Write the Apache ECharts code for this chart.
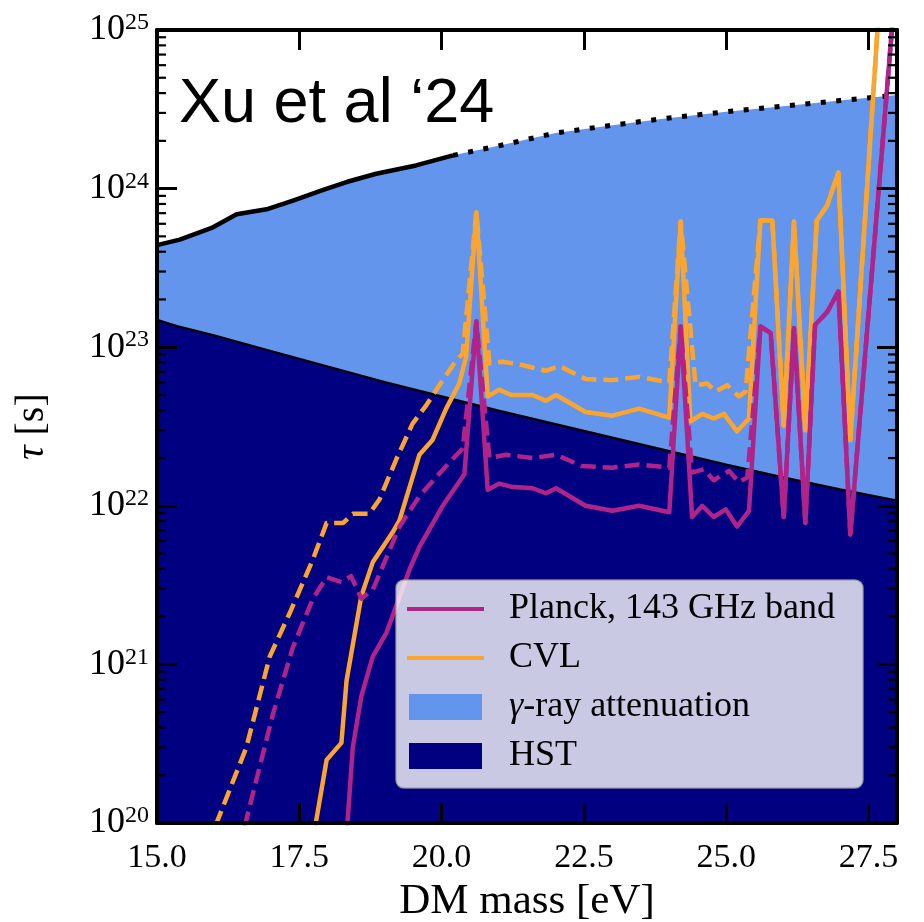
<!DOCTYPE html>
<html><head><meta charset="utf-8">
<script src="https://cdn.jsdelivr.net/npm/echarts@6/dist/echarts.min.js"></script>
<style>html,body{margin:0;padding:0;background:#fff}#c{width:924px;height:922px}</style>
</head><body><div id="c"></div>
<script>
// ---- tick labels ----
const xTicks = [15.0, 17.5, 20.0, 22.5, 25.0, 27.5];
const yDecades = [20, 21, 22, 23, 24, 25];
const minorMultipliers = [2, 3, 4, 5, 6, 7, 8, 9];

// ---- gamma-ray attenuation upper boundary (solid up to 20.2, dotted beyond) ----
const gammaX = [15.0, 15.40, 15.96, 16.40, 16.95, 17.39, 17.92, 18.33, 18.85, 19.55, 20.20, 21, 22, 23, 24, 25, 26, 27, 28];
const gammaY = [4.4e23, 4.77e23, 5.65e23, 6.9e23, 7.44e23, 8.4e23, 9.8e23, 1.1e24, 1.24e24, 1.4e24, 1.62e24, 1.86e24, 2.24e24, 2.51e24, 2.79e24, 3.05e24, 3.31e24, 3.59e24, 3.89e24];
const gammaSolidEnd = 20.2;

// ---- HST bound ----
const hstX = [15, 15.35, 16, 17, 18, 19, 20, 21, 22, 23, 24, 25, 26, 27, 28];
const hstY = [1.49e23, 1.36e23, 1.19e23, 9.46e22, 7.55e22, 6.03e22, 4.9e22, 3.98e22, 3.27e22, 2.69e22, 2.21e22, 1.82e22, 1.51e22, 1.27e22, 1.08e22];

// ---- CVL (solid) ----
const cvlX = [17.72, 17.80, 17.98, 18.24, 18.33, 18.59, 18.79, 19.14, 19.26, 19.61, 19.84, 20.08, 20.31, 20.43, 20.61, 20.81, 21.01, 21.22, 21.60, 21.83, 22.01, 22.53, 23.00, 23.47, 24.00, 24.20, 24.37, 24.58, 24.78, 24.96, 25.19, 25.40, 25.60, 25.81, 26.01, 26.19, 26.39, 26.59, 26.77, 26.97, 27.18, 27.67, 27.85];
const cvlY = [7e19, 1.05e20, 2.5e20, 3.2e20, 7.9e20, 2.7e21, 4.4e21, 6.8e21, 8.1e21, 2.1e22, 2.6e22, 4.1e22, 5.9e22, 8.7e22, 7.1e23, 4.9e22, 5.4e22, 5.0e22, 5.0e22, 4.6e22, 5.0e22, 3.9e22, 3.7e22, 4.1e22, 3.6e22, 6.2e23, 3.4e22, 3.8e22, 3.55e22, 3.8e22, 2.95e22, 3.55e22, 6.3e23, 6.3e23, 3.2e22, 6.2e23, 3.0e22, 6.3e23, 7.8e23, 1.26e24, 2.6e22, 1.17e25, 1e26];

// ---- CVL (dashed) ----
const cvlDashX = [15.90, 16.07, 16.57, 16.98, 17.33, 17.74, 17.98, 18.27, 18.44, 18.73, 18.91, 19.20, 19.49, 19.73, 19.96, 20.22, 20.37, 20.61, 20.84, 21.07, 21.36, 21.83, 22.07, 22.53, 23.00, 23.47, 24.00, 24.20, 24.46, 24.67, 24.81, 25.02, 25.22, 25.34, 25.60, 25.81, 26.01, 26.19, 26.39, 26.59, 26.77, 26.97, 27.18, 27.67, 27.85];
const cvlDashY = [7.2e19, 1.05e20, 3.0e20, 1.12e21, 2.1e21, 4.6e21, 7.8e21, 7.8e21, 8.9e21, 8.9e21, 1.1e22, 1.95e22, 3.3e22, 4.3e22, 5.75e22, 7.9e22, 9.1e22, 7.1e23, 7.9e22, 8.1e22, 7.8e22, 7.1e22, 7.6e22, 6.3e22, 6.2e22, 6.5e22, 6.0e22, 6.2e23, 5.75e22, 5.9e22, 5.25e22, 5.75e22, 4.9e22, 5.25e22, 6.3e23, 6.3e23, 3.2e22, 6.2e23, 3.0e22, 6.3e23, 7.8e23, 1.26e24, 2.6e22, 1.17e25, 1e26];

// ---- Planck 143 GHz (solid) ----
const planckX = [18.32, 18.35, 18.44, 18.59, 18.79, 19.03, 19.44, 19.61, 20.02, 20.40, 20.61, 20.81, 21.01, 21.22, 21.60, 21.83, 22.01, 22.53, 23.00, 23.47, 24.00, 24.20, 24.40, 24.58, 24.78, 24.99, 25.19, 25.40, 25.60, 25.78, 26.01, 26.19, 26.39, 26.56, 26.77, 26.97, 27.18, 27.91, 28.0];
const planckY = [7.5e19, 1.05e20, 3.0e20, 6.3e20, 1.12e21, 1.58e21, 4.0e21, 5.5e21, 1.0e22, 1.58e22, 1.45e23, 1.26e22, 1.38e22, 1.32e22, 1.29e22, 1.2e22, 1.29e22, 1.0e22, 9.3e21, 1.0e22, 9.1e21, 1.35e23, 8.5e21, 1.0e22, 8.5e21, 9.5e21, 7.4e21, 9.3e21, 1.35e23, 1.23e23, 8.5e21, 1.32e23, 7.8e21, 1.38e23, 1.66e23, 2.24e23, 6.6e21, 1e25, 2.5e25];

// ---- Planck 143 GHz (dashed) ----
const planckDashX = [16.45, 16.57, 17.04, 17.39, 17.74, 17.98, 18.24, 18.41, 18.59, 18.79, 19.26, 19.61, 20.08, 20.37, 20.61, 20.84, 21.13, 21.60, 22.01, 22.47, 23.00, 23.47, 24.00, 24.20, 24.40, 24.61, 24.78, 25.05, 25.22, 25.37, 25.60, 25.78, 26.01, 26.19, 26.39, 26.56, 26.77, 26.97, 27.18, 27.91, 28.0];
const planckDashY = [7e19, 1.05e20, 4.9e20, 1.29e21, 2.6e21, 3.55e21, 3.3e21, 3.6e21, 2.6e21, 2.95e21, 7.4e21, 1.15e22, 1.78e22, 2.3e22, 1.45e23, 2.0e22, 2.1e22, 2.0e22, 2.1e22, 1.78e22, 1.74e22, 1.82e22, 1.74e22, 1.35e23, 1.62e22, 1.7e22, 1.45e22, 1.66e22, 1.41e22, 1.51e22, 1.35e23, 1.23e23, 8.5e21, 1.32e23, 7.8e21, 1.38e23, 1.66e23, 2.24e23, 6.6e21, 1e25, 2.5e25];

const C_PLANCK = '#B0248A';
const C_CVL = '#FBA531';
const C_GAMMA = '#6495ED';
const C_HST = '#000080';
const SERIF = 'Liberation Serif';

const zip = (xs, ys) => xs.map((x, i) => [x, ys[i]]);
const gammaPts = zip(gammaX, gammaY);
const minorData = [];
yDecades.slice(0, -1).forEach(e => minorMultipliers.forEach(m => minorData.push([15, m * Math.pow(10, e)])));

const chart = echarts.init(document.getElementById('c'), null, {renderer: 'canvas'});

const baseLine = {type: 'line', showSymbol: false, symbol: 'none', silent: true, animation: false, emphasis: {disabled: true}, z: 2};

const axisCommonX = {
  type: 'value', min: 15, max: 28, interval: 2.5, z: 5,
  axisLine: {show: true, onZero: false, lineStyle: {color: '#000', width: 4}},
  axisTick: {show: true, inside: true, length: 20, lineStyle: {color: '#000', width: 3}},
  splitLine: {show: false}
};
const axisCommonY = {
  type: 'log', logBase: 10, min: 1e20, max: 1e25, z: 5,
  axisLine: {show: true, onZero: false, lineStyle: {color: '#000', width: 4}},
  axisTick: {show: true, inside: true, length: 20, lineStyle: {color: '#000', width: 3}},
  splitLine: {show: false}, minorTick: {show: false}
};

chart.setOption({
  animation: false,
  backgroundColor: '#fff',
  title: {
    text: 'Xu et al \u201824', left: 179, top: 73, padding: 0,
    textStyle: {fontFamily: 'Liberation Sans', fontSize: 63, fontWeight: 'normal', color: '#000'}
  },
  grid: {left: 157, right: 27, top: 30, bottom: 99, outerBoundsMode: 'none'},
  xAxis: [
    Object.assign({}, axisCommonX, {
      position: 'bottom',
      axisLabel: {
        formatter: v => xTicks.indexOf(v) >= 0 ? v.toFixed(1) : '',
        fontFamily: SERIF, fontSize: 34, color: '#000', margin: 18
      },
      name: 'DM mass [eV]', nameLocation: 'middle', nameGap: 56,
      nameTextStyle: {fontFamily: SERIF, fontSize: 43, color: '#000'}
    }),
    Object.assign({}, axisCommonX, {position: 'top', axisLabel: {show: false}})
  ],
  yAxis: [
    Object.assign({}, axisCommonY, {
      position: 'left',
      axisLabel: {
        margin: 8, color: '#000',
        formatter: v => '{b|10}{s|' + Math.round(Math.log10(v)) + '}',
        rich: {
          b: {fontFamily: SERIF, fontSize: 36, lineHeight: 38, color: '#000'},
          s: {fontFamily: SERIF, fontSize: 24, lineHeight: 24, verticalAlign: 'top', color: '#000'}
        }
      },
      name: '{i|\u03c4} [s]', nameLocation: 'middle', nameGap: 105, nameRotate: 90,
      nameTextStyle: {
        fontFamily: SERIF, fontSize: 40, color: '#000',
        rich: {i: {fontFamily: SERIF, fontSize: 40, fontStyle: 'italic', color: '#000'}}
      }
    }),
    Object.assign({}, axisCommonY, {position: 'right', axisLabel: {show: false}})
  ],
  legend: {
    orient: 'vertical', left: 407, top: 589, padding: 0, itemGap: 9,
    itemWidth: 77, itemHeight: 26, selectedMode: false, z: 120, symbolKeepAspect: true,
    itemStyle: {borderWidth: 0},
    textStyle: {
      fontFamily: SERIF, fontSize: 36, color: '#000', lineHeight: 40, padding: [0, 0, 0, 20],
      rich: {i: {fontFamily: SERIF, fontSize: 36, fontStyle: 'italic', color: '#000'}}
    },
    formatter: name => name === '\u03b3-ray attenuation' ? '{i|\u03b3}-ray attenuation' : name,
    data: [
      {name: 'Planck, 143 GHz band', icon: 'path://M0,0H77V4H0Z', itemStyle: {color: C_PLANCK}},
      {name: 'CVL', icon: 'path://M0,0H77V4H0Z', itemStyle: {color: C_CVL}},
      {name: '\u03b3-ray attenuation', icon: 'path://M0,0H73V26H0Z', itemStyle: {color: C_GAMMA}},
      {name: 'HST', icon: 'path://M0,0H73V26H0Z', itemStyle: {color: C_HST}}
    ]
  },
  graphic: [{
    type: 'rect', z: 100, silent: true,
    shape: {x: 396, y: 580, width: 467, height: 208, r: 8},
    style: {fill: 'rgba(255,255,255,0.79)', stroke: 'rgba(160,160,160,0.8)', lineWidth: 1.5}
  }],
  series: [
    Object.assign({}, baseLine, {
      name: '\u03b3-ray attenuation', color: C_GAMMA, data: gammaPts, z: 1,
      lineStyle: {width: 0, color: C_GAMMA},
      areaStyle: {color: C_GAMMA, opacity: 1, origin: 'start'}
    }),
    Object.assign({}, baseLine, {
      name: 'HST', color: C_HST, data: zip(hstX, hstY), z: 1,
      lineStyle: {width: 2.2, color: '#000'},
      areaStyle: {color: C_HST, opacity: 1, origin: 'start'}
    }),
    Object.assign({}, baseLine, {
      name: 'gamma-solid', color: '#000', data: gammaPts.filter(p => p[0] <= gammaSolidEnd),
      lineStyle: {width: 4.5, color: '#000', join: 'round'}
    }),
    Object.assign({}, baseLine, {
      name: 'gamma-dotted', color: '#000', data: gammaPts.filter(p => p[0] >= gammaSolidEnd),
      lineStyle: {width: 5, color: '#000', type: [5, 10.5], cap: 'butt'}
    }),
    Object.assign({}, baseLine, {
      name: 'CVL dashed', color: C_CVL, data: zip(cvlDashX, cvlDashY),
      lineStyle: {width: 4.5, color: C_CVL, type: [15, 7], join: 'round'}
    }),
    Object.assign({}, baseLine, {
      name: 'CVL', color: C_CVL, data: zip(cvlX, cvlY),
      lineStyle: {width: 4.5, color: C_CVL, join: 'round'}
    }),
    Object.assign({}, baseLine, {
      name: 'Planck dashed', color: C_PLANCK, data: zip(planckDashX, planckDashY),
      lineStyle: {width: 4.5, color: C_PLANCK, type: [15, 7], join: 'round'}
    }),
    Object.assign({}, baseLine, {
      name: 'Planck, 143 GHz band', color: C_PLANCK, data: zip(planckX, planckY),
      lineStyle: {width: 4.5, color: C_PLANCK, join: 'round'}
    }),
    {
      type: 'custom', name: 'minor ticks', silent: true, z: 6, animation: false,
      data: minorData,
      renderItem: (params, api) => {
        const v = api.value(1);
        const l = api.coord([15, v]);
        const r = api.coord([28, v]);
        const st = {stroke: '#000', lineWidth: 2.2};
        return {type: 'group', children: [
          {type: 'line', shape: {x1: l[0], y1: l[1], x2: l[0] + 9, y2: l[1]}, style: st},
          {type: 'line', shape: {x1: r[0], y1: r[1], x2: r[0] - 9, y2: r[1]}, style: st}
        ]};
      }
    }
  ]
});
</script></body></html>
